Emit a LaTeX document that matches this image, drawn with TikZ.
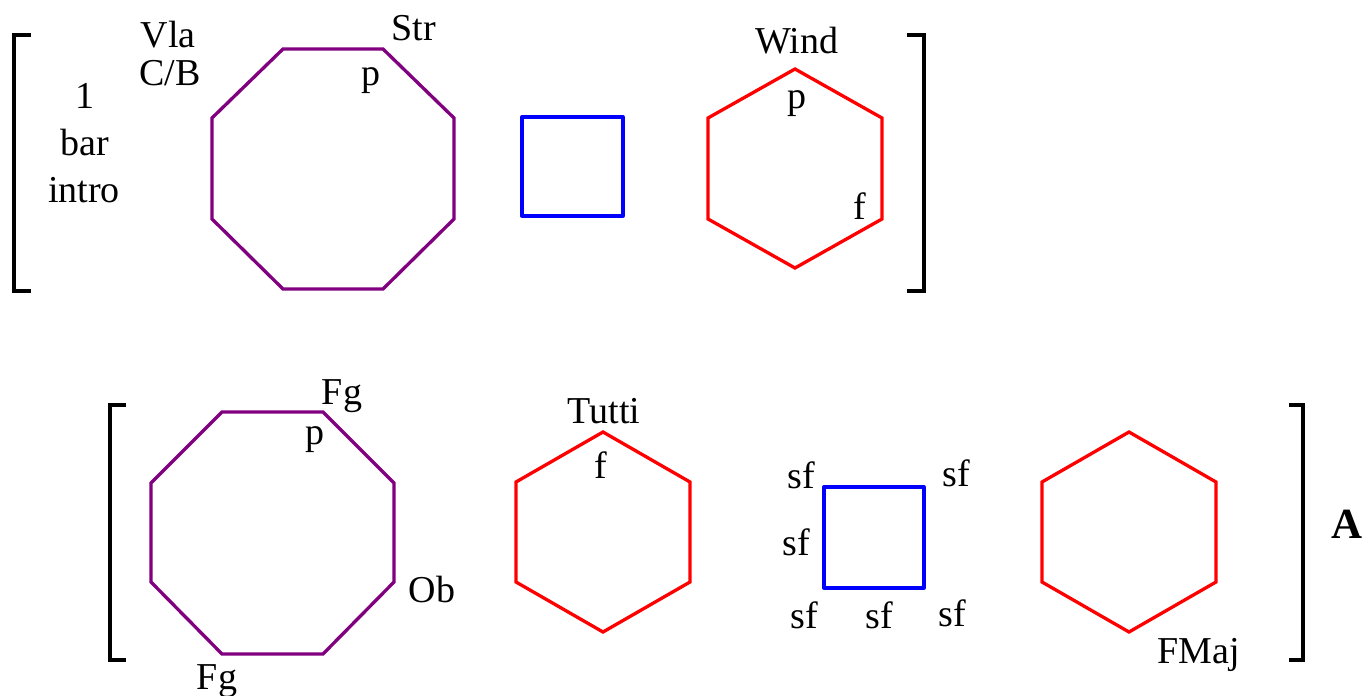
\documentclass[tikz,border=0pt]{standalone}
\usepackage{fontspec}
\setmainfont{Liberation Serif}
\definecolor{oct}{RGB}{128,0,128}
\definecolor{hexr}{RGB}{255,0,0}
\definecolor{sqb}{RGB}{0,0,255}
\begin{document}
\begin{tikzpicture}[x=1pt,y=-1pt,
  lbl/.style={anchor=base,inner sep=0pt,font=\rmfamily\fontsize{38}{46}\selectfont},
  octline/.style={draw=oct,line width=3.3pt,line join=miter},
  hexline/.style={draw=hexr,line width=3.3pt,line join=miter},
  sqline/.style={draw=sqb,line width=3.3pt,line join=round},
  brk/.style={draw=black,line width=4pt,line join=miter}]
\useasboundingbox (0,0) rectangle (1366,696);
% brackets
\draw[brk] (31,35) -- (14,35) -- (14,291) -- (31,291);
\draw[brk] (907,35) -- (924,35) -- (924,291) -- (907,291);
\draw[brk] (126,405) -- (110,405) -- (110,660) -- (126,660);
\draw[brk] (1289,405) -- (1303,405) -- (1303,660) -- (1289,660);
% top row shapes
\draw[octline] (283,49) -- (383,49) -- (454,118) -- (454,219) -- (383,289) -- (283,289) -- (212,219) -- (212,118) -- cycle;
\draw[sqline] (522,117) rectangle (623,216);
\draw[hexline] (795,69) -- (882,118) -- (882,219) -- (795,268) -- (708,219) -- (708,118) -- cycle;
% bottom row shapes
\draw[octline] (222,412) -- (323,412) -- (394,483) -- (394,582) -- (323,654) -- (222,654) -- (151,582) -- (151,483) -- cycle;
\draw[hexline] (603,432) -- (690,482) -- (690,582) -- (603,632) -- (516,582) -- (516,482) -- cycle;
\draw[sqline] (824,487) rectangle (924,588);
\draw[hexline] (1129,432) -- (1216,482) -- (1216,582) -- (1129,632) -- (1042,582) -- (1042,482) -- cycle;
% top row labels
\node[lbl] (vla) at (168,47) {Vla};
\node[lbl] (cb) at (170,85) {C/B};
\node[lbl] (one) at (85,108) {1};
\node[lbl] (bar) at (85,155) {bar};
\node[lbl] (intro) at (84,202) {intro};
\node[lbl] (str) at (414,40) {Str};
\node[lbl] (p1) at (371,85) {p};
\node[lbl] (wind) at (797,53) {Wind};
\node[lbl] (p2) at (797,108) {p};
\node[lbl] (f1) at (860,219) {f};
% bottom row labels
\node[lbl] (fg1) at (342,404) {Fg};
\node[lbl] (p3) at (315,444) {p};
\node[lbl] (ob) at (432,602) {Ob};
\node[lbl] (fg2) at (217,689) {Fg};
\node[lbl] (tutti) at (604,423) {Tutti};
\node[lbl] (f2) at (601,478) {f};
\node[lbl] (sf1) at (801,488) {sf};
\node[lbl] (sf2) at (956,486) {sf};
\node[lbl] (sf3) at (796,555) {sf};
\node[lbl] (sf4) at (804,628) {sf};
\node[lbl] (sf5) at (879,628) {sf};
\node[lbl] (sf6) at (952,626) {sf};
\node[lbl] (fmaj) at (1199,663) {FMaj};
\node[lbl,font=\rmfamily\fontsize{43}{50}\selectfont\bfseries] (a) at (1347,538) {A};
\end{tikzpicture}
\end{document}
